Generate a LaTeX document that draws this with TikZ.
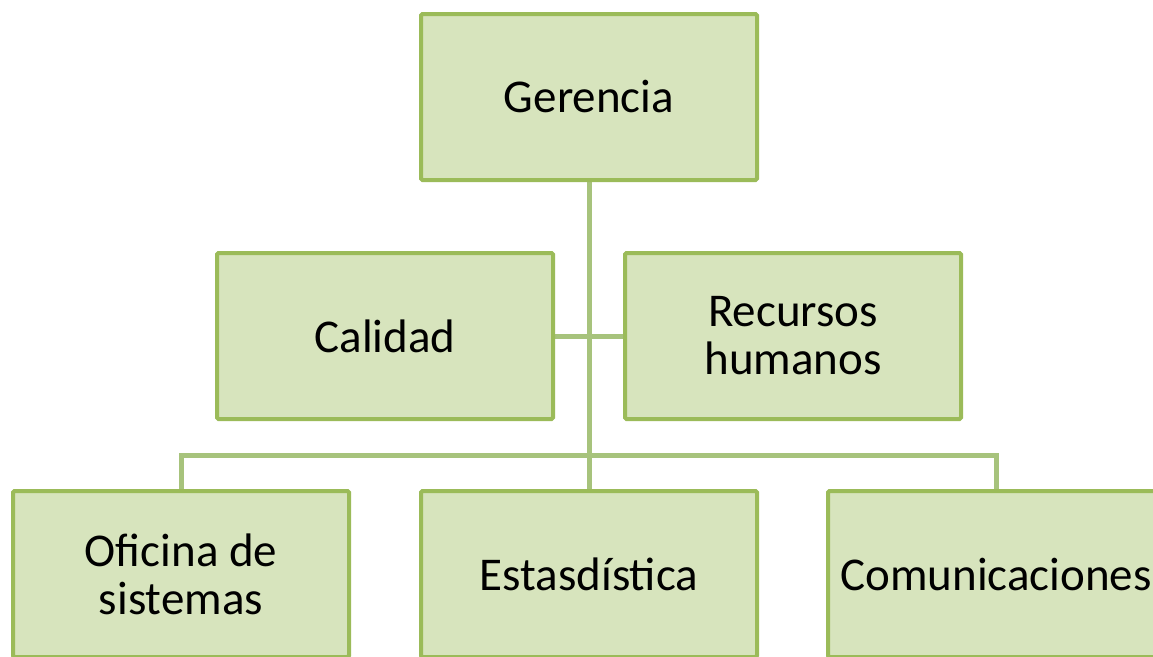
\documentclass[tikz,border=0pt]{standalone}
\usepackage{fontspec}
\setmainfont{Carlito}
\usetikzlibrary{backgrounds}
\definecolor{boxfill}{HTML}{D7E4BD}
\definecolor{boxline}{HTML}{9BBB59}
\definecolor{connline}{HTML}{A7C37C}
\begin{document}
\begin{tikzpicture}[x=1pt,y=-1pt,
  orgbox/.style={draw=boxline, fill=boxfill, line width=4pt, rounded corners=1.5pt,
    minimum width=336pt, minimum height=166pt, inner sep=0pt, align=center,
    font=\fontsize{47}{48}\selectfont, text=black},
  conn/.style={draw=connline, line width=5pt}]
\useasboundingbox (0,0) rectangle (1153,656);
\node[orgbox] (ger) at (589,97) {Gerencia};
\node[orgbox] (cal) at (385,336) {Calidad};
\node[orgbox] (rh) at (793,336) {Recursos\\humanos};
\node[orgbox] (ofi) at (181,574) {Oficina de\\sistemas};
\node[orgbox] (est) at (589,574) {Estasdística};
\node[orgbox] (com) at (996,574) {Comunicaciones};
\coordinate (bus) at (589,455);
\begin{scope}[on background layer]
\draw[conn] (ger.south) -- (est.north);
\draw[conn] (ofi.north) |- (bus) -| (com.north);
\draw[conn] (cal.east) -- (rh.west);
\end{scope}
\end{tikzpicture}
\end{document}
